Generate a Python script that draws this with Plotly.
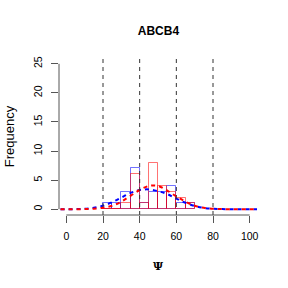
import plotly.graph_objects as go

# Histogram bins (left edges) and counts
bin_left = [20, 25, 30, 35, 40, 45, 50, 55, 60, 65]
blue_counts = [1, 1, 3, 7, 1, 3, 3, 4, 1, 1]
red_counts = [0, 0, 1, 6, 1, 8, 4, 3, 2, 1]
bin_width = 5

# Density curves (scaled to frequency)
dens_x = [-7.5, -5, 0, 5, 10, 15, 20, 25, 30, 35, 40, 45, 50, 55, 60, 65, 70, 75, 80, 85, 90, 95, 100, 104]
blue_dens = [0, 0, 0, 0.02, 0.08, 0.25, 0.6, 1.2, 2.0, 2.8, 3.3, 3.4, 3.1, 2.6, 1.8, 1.1, 0.55, 0.22, 0.07, 0.02, 0, 0, 0, 0]
red_dens = [0, 0, 0, 0, 0.02, 0.08, 0.25, 0.6, 1.3, 2.3, 3.3, 4.0, 4.0, 3.2, 2.2, 1.3, 0.6, 0.25, 0.08, 0.02, 0, 0, 0, 0]

vlines = [20, 40, 60, 80]
x_ticks = [0, 20, 40, 60, 80, 100]
y_ticks = [0, 5, 10, 15, 20, 25]

centers = [b + bin_width / 2 for b in bin_left]

fig = go.Figure()
fig.add_trace(go.Bar(x=centers, y=blue_counts, width=bin_width,
                     marker=dict(color="rgba(0,0,0,0)", line=dict(color="rgba(0,0,255,0.55)", width=1)),
                     showlegend=False))
fig.add_trace(go.Bar(x=centers, y=red_counts, width=bin_width,
                     marker=dict(color="rgba(0,0,0,0)", line=dict(color="rgba(255,0,0,0.55)", width=1)),
                     showlegend=False))
fig.add_trace(go.Scatter(x=dens_x, y=blue_dens, mode="lines",
                         line=dict(color="blue", width=2, dash="4px,4px", shape="spline"),
                         showlegend=False))
fig.add_trace(go.Scatter(x=dens_x, y=red_dens, mode="lines",
                         line=dict(color="red", width=2, dash="4px,4px", shape="spline"),
                         showlegend=False))

for v in vlines:
    fig.add_shape(type="line", x0=v, x1=v, y0=0, y1=1, xref="x", yref="paper",
                  line=dict(color="#333333", width=1, dash="4px,4px"))

# axis lines spanning tick range (R style)
fig.add_shape(type="line", x0=0, x1=0, y0=y_ticks[0], y1=y_ticks[-1], xref="paper", yref="y",
              line=dict(color="#555555", width=1))
fig.add_shape(type="line", x0=x_ticks[0], x1=x_ticks[-1], y0=0, y1=0, xref="x", yref="paper",
              line=dict(color="#555555", width=1))

# x axis title (Greek Psi)
fig.add_annotation(text="<b>Ψ</b>", x=0.5, y=-0.33, xref="paper", yref="paper",
                   xanchor="center", yanchor="middle", showarrow=False,
                   font=dict(size=11, family="DejaVu Serif", color="black"))

fig.update_layout(
    width=288, height=288,
    margin=dict(l=59, r=31, t=58, b=73),
    paper_bgcolor="white", plot_bgcolor="white",
    barmode="overlay", bargap=0,
    font=dict(family="Liberation Sans, Arial, sans-serif", size=10.5, color="black"),
    title=dict(text="<b>ABCB4</b>", x=0.55, xanchor="center", y=1 - 31 / 288, yanchor="middle",
               font=dict(size=12, color="black")),
    xaxis=dict(range=[-4, 104], tickvals=x_ticks, ticktext=[str(t) for t in x_ticks],
               ticks="outside", ticklen=7, tickcolor="#555555", ticklabelstandoff=4,
               showgrid=False, zeroline=False, showline=False, automargin=False),
    yaxis=dict(range=[-1, 26], tickvals=y_ticks, ticktext=[str(t) for t in y_ticks],
               ticks="outside", ticklen=7, tickcolor="#555555", tickangle=-90, ticklabelstandoff=5,
               showgrid=False, zeroline=False, showline=False, automargin=False,
               title=dict(text="Frequency", standoff=14)),
)

fig.write_html("out.html")
